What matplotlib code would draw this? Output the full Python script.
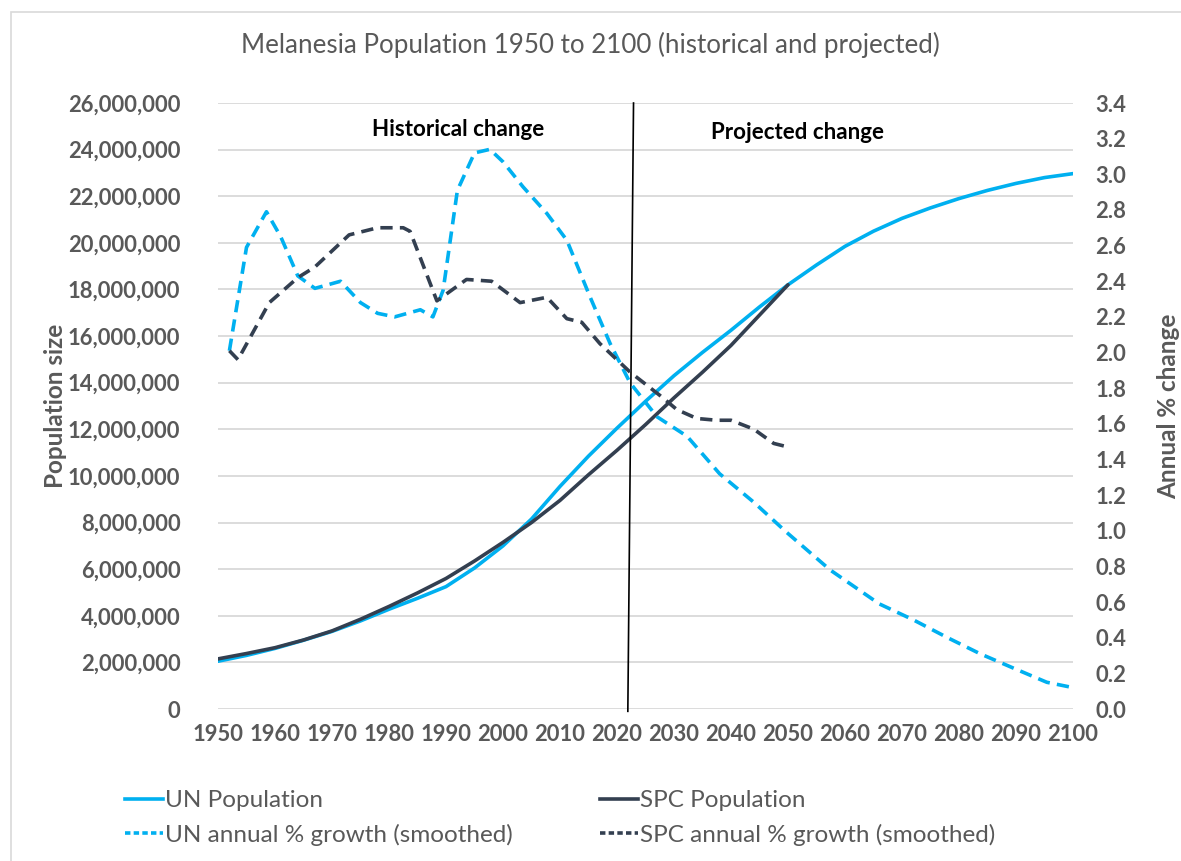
import matplotlib
matplotlib.use("Agg")
import matplotlib.pyplot as plt
from matplotlib.lines import Line2D
from matplotlib.patches import Rectangle
from matplotlib.ticker import FuncFormatter, MultipleLocator

plt.rcParams['font.family'] = ['Lato', 'DejaVu Sans']

# population (people)
un_pop_years = [1950, 1955, 1960, 1965, 1970, 1975, 1980, 1985, 1990, 1995, 2000, 2005,
                2010, 2015, 2020, 2025, 2030, 2035, 2040, 2045, 2050, 2055, 2060, 2065,
                2070, 2075, 2080, 2085, 2090, 2095, 2100]
un_pop = [2.05e6, 2.30e6, 2.60e6, 2.95e6, 3.33e6, 3.78e6, 4.28e6, 4.75e6, 5.25e6, 6.05e6,
          7.00e6, 8.15e6, 9.55e6, 10.85e6, 12.05e6, 13.20e6, 14.30e6, 15.30e6, 16.25e6,
          17.25e6, 18.20e6, 19.05e6, 19.85e6, 20.50e6, 21.05e6, 21.50e6, 21.90e6, 22.25e6,
          22.55e6, 22.80e6, 22.97e6]

spc_pop_years = [1950, 1955, 1960, 1965, 1970, 1975, 1980, 1985, 1990, 1995, 2000, 2005,
                 2010, 2015, 2020, 2025, 2030, 2035, 2040, 2045, 2050]
spc_pop = [2.15e6, 2.38e6, 2.63e6, 2.96e6, 3.35e6, 3.85e6, 4.40e6, 4.98e6, 5.60e6, 6.35e6,
           7.15e6, 8.00e6, 8.95e6, 10.05e6, 11.10e6, 12.20e6, 13.35e6, 14.45e6, 15.60e6,
           16.90e6, 18.20e6]

# annual % growth (smoothed)
un_gr_years = [1952, 1955, 1958.5, 1961, 1964, 1967, 1971.5, 1975, 1978, 1981, 1985.5,
               1987.7, 1989.5, 1992, 1995, 1997.7, 2000, 2003.5, 2007.7, 2011.2, 2015.3,
               2018.8, 2022.3, 2027, 2032.3, 2038, 2044, 2049.8, 2057.4, 2066, 2072, 2078,
               2083.7, 2089.5, 2095.4, 2100]
un_gr = [2.01, 2.59, 2.79, 2.65, 2.43, 2.36, 2.40, 2.28, 2.22, 2.20, 2.24, 2.20, 2.35, 2.91,
         3.12, 3.14, 3.07, 2.93, 2.78, 2.63, 2.31, 2.05, 1.83, 1.64, 1.53, 1.32, 1.16, 0.99,
         0.78, 0.59, 0.50, 0.40, 0.31, 0.23, 0.15, 0.12]

spc_gr_years = [1952, 1953.5, 1959, 1964, 1967, 1973, 1978, 1982.5, 1983.7, 1988.4, 1993.6,
                1998, 2003, 2007.7, 2011.2, 2013.8, 2017, 2022.3, 2027.5, 2030.5, 2034,
                2037.5, 2040, 2044, 2047.5, 2050]
spc_gr = [2.01, 1.96, 2.28, 2.42, 2.48, 2.66, 2.70, 2.70, 2.68, 2.29, 2.41, 2.40, 2.28, 2.31,
          2.19, 2.17, 2.05, 1.89, 1.76, 1.68, 1.63, 1.62, 1.62, 1.57, 1.49, 1.47]

UN_BLUE = '#00B0F0'
SPC_NAVY = '#333F50'
GREY = '#595959'

fig = plt.figure(figsize=(11.81, 8.61), dpi=100)
ax = fig.add_axes([218 / 1181, 1 - 709 / 861, (1073 - 218) / 1181, (709 - 103) / 861])
ax2 = ax.twinx()

# chart border
fig.patches.append(Rectangle((11 / 1181, -0.05), 1.2, 1 - 12 / 861 + 0.05,
                             transform=fig.transFigure, fill=False,
                             edgecolor='#D9D9D9', linewidth=1.2))

ax.plot(un_pop_years, un_pop, color=UN_BLUE, lw=2.6, solid_capstyle='round', zorder=3)
ax.plot(spc_pop_years, spc_pop, color=SPC_NAVY, lw=2.6, solid_capstyle='round', zorder=3)
ax2.plot(un_gr_years, un_gr, color=UN_BLUE, lw=2.6, dashes=(3.4, 2.0), zorder=3)
ax2.plot(spc_gr_years, spc_gr, color=SPC_NAVY, lw=2.6, dashes=(3.4, 2.0), zorder=3)

ax.set_xlim(1950, 2100)
ax.set_ylim(0, 26e6)
ax2.set_ylim(0, 3.4)
ax.xaxis.set_major_locator(MultipleLocator(10))
ax.yaxis.set_major_locator(MultipleLocator(2e6))
ax2.yaxis.set_major_locator(MultipleLocator(0.2))
ax.yaxis.set_major_formatter(FuncFormatter(lambda v, p: f'{v:,.0f}'))
ax2.yaxis.set_major_formatter(FuncFormatter(lambda v, p: f'{v:.1f}'))

ax.grid(axis='y', color='#D9D9D9', lw=1.3, zorder=0)
ax.set_axisbelow(True)
for a in (ax, ax2):
    for s in a.spines.values():
        s.set_visible(False)
    a.tick_params(length=0, labelsize=15.8, labelcolor=GREY)
    for lbl in a.get_xticklabels() + a.get_yticklabels():
        lbl.set_fontweight('bold')
ax.tick_params(axis='y', pad=27)
ax.tick_params(axis='x', pad=11)
ax2.tick_params(axis='y', pad=16)

ax.set_ylabel('Population size', fontsize=17.5, fontweight='bold', color=GREY, labelpad=1)
ax2.set_ylabel('Annual % change', fontsize=17.5, fontweight='bold', color=GREY, labelpad=22)

# divider between historical and projected
ax.add_line(Line2D([2022.9, 2021.9], [26e6, -0.1e6], color='black', lw=1.2,
                   clip_on=False, zorder=4))
ax.text(1992.1, 24.85e6, 'Historical change', fontsize=16.1, fontweight='bold',
        ha='center', va='center', color='black')
ax.text(2051.6, 24.72e6, 'Projected change', fontsize=16.1, fontweight='bold',
        ha='center', va='center', color='black')

fig.text(0.5, 1 - 45 / 861, 'Melanesia Population 1950 to 2100 (historical and projected)',
         ha='center', va='center', fontsize=18.7, color=GREY)

# legend, two columns
kw = dict(lw=2.6)
h_un = [Line2D([], [], color=UN_BLUE, **kw),
        Line2D([], [], color=UN_BLUE, dashes=(1.5, 0.9), **kw)]
h_spc = [Line2D([], [], color=SPC_NAVY, **kw),
         Line2D([], [], color=SPC_NAVY, dashes=(1.5, 0.9), **kw)]
leg_kw = dict(frameon=False, fontsize=17.5, labelcolor=GREY, handlelength=1.55,
              handletextpad=0.1, labelspacing=0.5, loc='center left',
              borderpad=0, borderaxespad=0)
leg1 = fig.legend(h_un, ['UN Population', 'UN annual % growth (smoothed)'],
                  bbox_to_anchor=(125 / 1181, 1 - 818 / 861), **leg_kw)
leg2 = fig.legend(h_spc, ['SPC Population', 'SPC annual % growth (smoothed)'],
                  bbox_to_anchor=(600 / 1181, 1 - 818 / 861), **leg_kw)

fig.savefig('out.png', dpi=100)
